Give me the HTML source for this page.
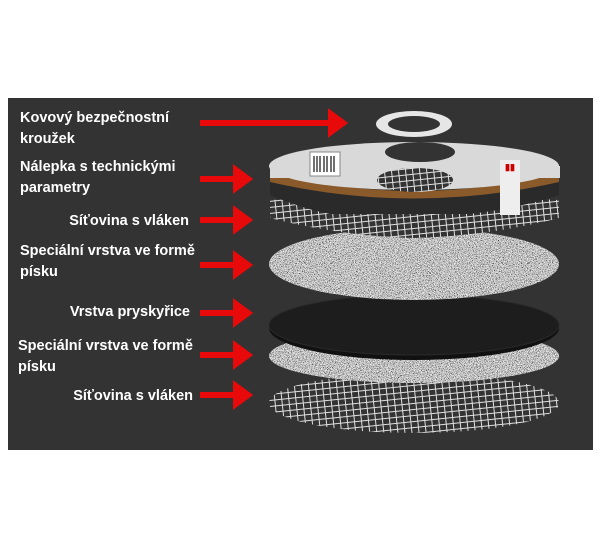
<!DOCTYPE html>
<html><head><meta charset="utf-8"><style>
body{margin:0;background:#fff;width:600px;height:550px;overflow:hidden;position:relative;font-family:"Liberation Sans",sans-serif}
svg{position:absolute;left:0;top:0}
</style></head><body>
<svg width="600" height="550" viewBox="0 0 600 550">
<defs>
<pattern id="mesh" width="7" height="6" patternUnits="userSpaceOnUse" patternTransform="rotate(-6)">
<rect width="7" height="6" fill="#333"/>
<path d="M0 0.5H7M0.5 0V6" stroke="#e0e0e0" stroke-width="1"/>
</pattern>
<filter id="grain"><feTurbulence type="fractalNoise" baseFrequency="1.3" numOctaves="2" seed="5" result="n"/>
<feColorMatrix in="n" type="matrix" values="2.2 0 0 0 -0.55 2.2 0 0 0 -0.55 2.2 0 0 0 -0.55 0 0 0 0 1" result="g"/>
<feComposite in="g" in2="SourceGraphic" operator="in"/></filter>
<marker id="ah" markerWidth="4" markerHeight="5" refX="1.2" refY="2.5" orient="auto"><path d="M0,0L3.4,2.5L0,5Z" fill="#e8090b"/></marker>
</defs>
<rect x="8" y="98" width="585" height="352" fill="#333333"/>
<ellipse cx="414" cy="403" rx="145" ry="30" fill="url(#mesh)"/>
<ellipse cx="414" cy="356" rx="145" ry="27" fill="#888" filter="url(#grain)"/>
<ellipse cx="414" cy="328" rx="145" ry="32" fill="#111"/>
<ellipse cx="414" cy="325" rx="145" ry="30" fill="#1d1d1d" stroke="#2a2a2a"/>
<ellipse cx="414" cy="264" rx="145" ry="36" fill="#888" filter="url(#grain)"/>
<path d="M270 200 Q414 192 559 200 L559 218 Q490 236 414 238 Q340 236 270 218Z" fill="url(#mesh)"/>
<path d="M270 180 L270 195 Q300 208 330 214 L470 214 Q520 208 559 195 L559 180Z" fill="#2a2a2a"/>
<path d="M270 172 Q414 210 559 172 L559 182 Q414 215 270 182Z" fill="#8a5a2a"/>
<ellipse cx="414" cy="166" rx="145" ry="24" fill="#d9d9d9"/>
<rect x="270" y="166" width="290" height="12" fill="#d9d9d9"/>
<rect x="310" y="152" width="30" height="24" fill="#fff" stroke="#888"/>
<path d="M314 156v16M317 156v16M320 156v16M324 156v16M327 156v16M331 156v16M334 156v16" stroke="#222" stroke-width="1.3"/>
<ellipse cx="415" cy="180" rx="38" ry="12" fill="url(#mesh)"/>
<ellipse cx="420" cy="152" rx="35" ry="10" fill="#333"/>
<rect x="500" y="160" width="20" height="55" fill="#eee"/>
<text x="505" y="170" font-size="9" font-weight="bold" fill="#c00">▮▮</text>
<ellipse cx="414" cy="124" rx="38" ry="13" fill="#e6e6e6"/>
<ellipse cx="414" cy="124" rx="26" ry="8" fill="#333"/>
<g stroke="#e8090b" stroke-width="6" fill="none" marker-end="url(#ah)">
<line x1="200" y1="123" x2="335" y2="123"/>
<line x1="200" y1="179" x2="240" y2="179"/>
<line x1="200" y1="220" x2="240" y2="220"/>
<line x1="200" y1="265" x2="240" y2="265"/>
<line x1="200" y1="313" x2="240" y2="313"/>
<line x1="200" y1="355" x2="240" y2="355"/>
<line x1="200" y1="395" x2="240" y2="395"/>
</g>
<g fill="#fff" font-family="Liberation Sans, sans-serif" font-weight="bold" font-size="14.5">
<text x="20" y="122">Kovový bezpečnostní</text>
<text x="20" y="143">kroužek</text>
<text x="20" y="171">Nálepka s technickými</text>
<text x="20" y="192">parametry</text>
<text x="189" y="225" text-anchor="end">Síťovina s vláken</text>
<text x="20" y="255">Speciální vrstva ve formě</text>
<text x="20" y="276">písku</text>
<text x="190" y="316" text-anchor="end">Vrstva pryskyřice</text>
<text x="18" y="350">Speciální vrstva ve formě</text>
<text x="18" y="371">písku</text>
<text x="193" y="400" text-anchor="end">Síťovina s vláken</text>
</g>
</svg>
</body></html>
